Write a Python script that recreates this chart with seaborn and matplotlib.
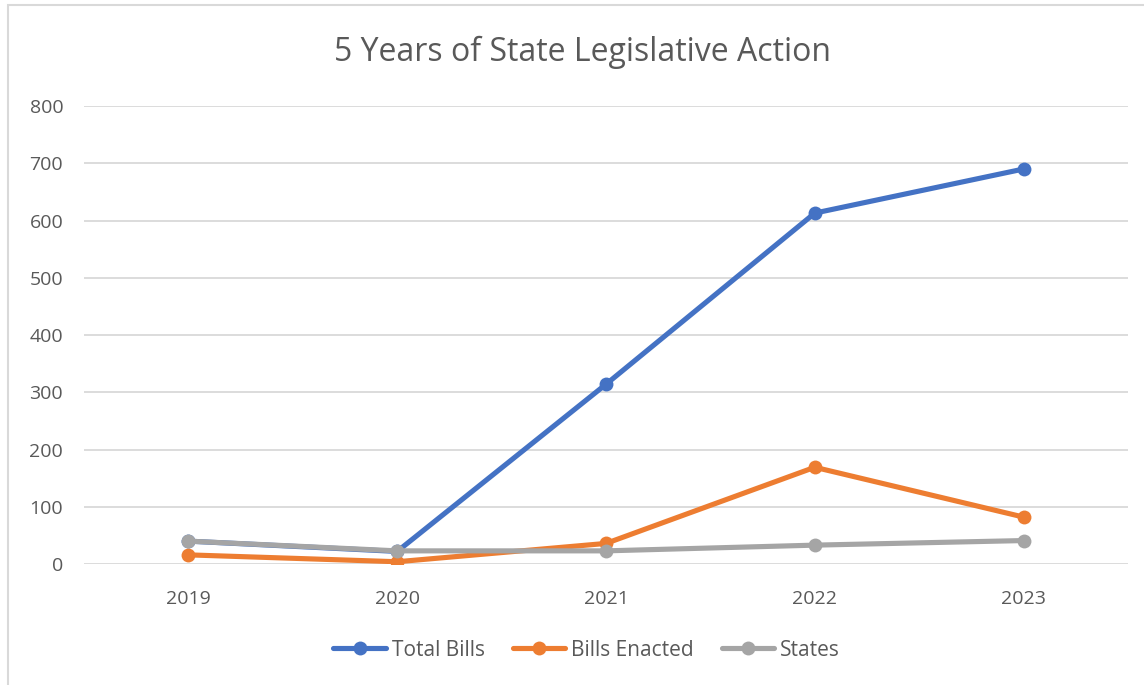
import matplotlib
matplotlib.use("Agg")
import matplotlib.pyplot as plt
from matplotlib.patches import Rectangle
import seaborn as sns
import pandas as pd

years = ["2019", "2020", "2021", "2022", "2023"]
total_bills = [40, 22, 314, 613, 690]
bills_enacted = [16, 4, 36, 169, 82]
states = [40, 23, 23, 33, 41]

series_names = ["Total Bills", "Bills Enacted", "States"]
colors = ["#4472C4", "#ED7D31", "#A5A5A5"]

df = pd.DataFrame({
    "Year": years * 3,
    "Value": total_bills + bills_enacted + states,
    "Series": [s for s in series_names for _ in years],
})

sns.set_theme(style="white")
plt.rcParams["font.family"] = ["Open Sans", "DejaVu Sans"]

fig = plt.figure(figsize=(11.44, 6.85), dpi=100)
ax = fig.add_axes([0.0734, 0.1766, 0.9126, 0.6686])

sns.lineplot(
    data=df, x="Year", y="Value", hue="Series", hue_order=series_names,
    palette=colors, marker="o", markersize=10, markeredgewidth=0,
    linewidth=3.7, sort=False, ax=ax, legend=False,
)

ax.set_xlim(-0.5, 4.5)
ax.set_ylim(0, 800)
ax.set_yticks(range(0, 801, 100))
ax.yaxis.grid(True, color="#D9D9D9", linewidth=1.3)
ax.set_axisbelow(True)
for side in ["left", "right", "top", "bottom"]:
    ax.spines[side].set_visible(False)
ax.set_xlabel("")
ax.set_ylabel("")
ax.tick_params(axis="both", colors="#595959", labelsize=14, length=0)
ax.tick_params(axis="y", pad=15)
ax.tick_params(axis="x", pad=19)

fig.text(0.509, 0.923, "5 Years of State Legislative Action", ha="center",
         va="center", fontsize=23, color="#595959")

handles = [plt.Line2D([0], [0], color=c, linewidth=3.7, marker="o",
                      markersize=10, markeredgewidth=0) for c in colors]
fig.legend(handles, series_names, loc="center", bbox_to_anchor=(0.513, 0.051),
           ncol=3, frameon=False, fontsize=15, labelcolor="#595959",
           handlelength=2.5, handletextpad=0.3, columnspacing=1.35)

fig.patches.append(Rectangle((8 / 1144, -0.05), 1.2, 1 - 5 / 685 + 0.05,
                             transform=fig.transFigure, fill=False,
                             edgecolor="#D9D9D9", linewidth=1.5))

fig.savefig("out.png", dpi=100, facecolor="white")
